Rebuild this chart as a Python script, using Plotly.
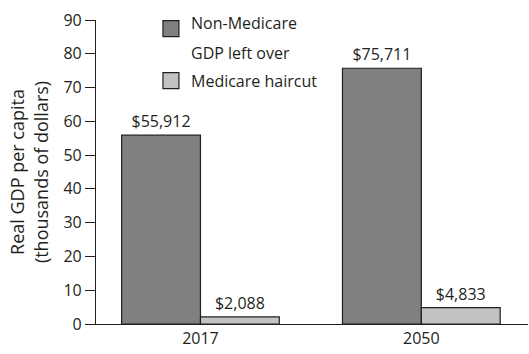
import plotly.graph_objects as go

categories = ["2017", "2050"]
non_medicare = [55.912, 75.711]
medicare_haircut = [2.088, 4.833]
series_names = ["Non-Medicare GDP left over", "Medicare haircut"]
legend_lines = [["Non-Medicare", "GDP left over"], ["Medicare haircut"]]
y_ticks = [0, 10, 20, 30, 40, 50, 60, 70, 80, 90]

FONT = "Open Sans"
INK = "#231f20"
dark = "#808083"
light = "#c1c2c4"

def labels(vals):
    return [f"${v*1000:,.0f}" for v in vals]

fig = go.Figure()
fig.add_trace(go.Bar(x=categories, y=non_medicare, name=series_names[0],
                     marker=dict(color=dark, line=dict(color=INK, width=1.2)),
                     text=labels(non_medicare), textposition="outside",
                     textfont=dict(size=16, color=INK), cliponaxis=False))
fig.add_trace(go.Bar(x=categories, y=medicare_haircut, name=series_names[1],
                     marker=dict(color=light, line=dict(color=INK, width=1.2)),
                     text=labels(medicare_haircut), textposition="outside",
                     textfont=dict(size=16, color=INK), cliponaxis=False))

# manual legend (paper coordinates)
sq = [(0.998, 0.945), (0.827, 0.774)]
colors = [dark, light]
shapes = []
for (y1, y0), c in zip(sq, colors):
    shapes.append(dict(type="rect", xref="paper", yref="paper",
                       x0=0.155, x1=0.192, y0=y0, y1=y1,
                       fillcolor=c, line=dict(color=INK, width=1.2)))
text_y = [[0.9885, 0.891], [0.800]]
annotations = []
for lines, ys in zip(legend_lines, text_y):
    for t, yy in zip(lines, ys):
        annotations.append(dict(text=t, xref="paper", yref="paper",
                                x=0.215, y=yy, xanchor="left", yanchor="middle",
                                showarrow=False, font=dict(size=16, color=INK)))

fig.update_layout(
    width=529, height=354,
    margin=dict(l=96, r=1, t=20, b=30),
    paper_bgcolor="white", plot_bgcolor="white",
    font=dict(family=FONT, size=16, color=INK),
    barmode="group", bargap=0.286, bargroupgap=0,
    showlegend=False,
    shapes=shapes, annotations=annotations,
)
fig.update_xaxes(type="category", range=[-0.473, 1.483],
                 showline=True, linecolor=INK, linewidth=1.2,
                 ticks="", showgrid=False, tickfont=dict(size=16))
fig.update_yaxes(range=[0, 90], tickvals=y_ticks, showline=True,
                 linecolor=INK, linewidth=1.2, ticks="outside",
                 ticklen=10, tickcolor=INK, tickwidth=1.2,
                 showgrid=False, zeroline=False, tickfont=dict(size=16),
                 title=dict(text="Real GDP per capita<br>(thousands of dollars)",
                            font=dict(size=18), standoff=10))

fig.write_html("out.html")
